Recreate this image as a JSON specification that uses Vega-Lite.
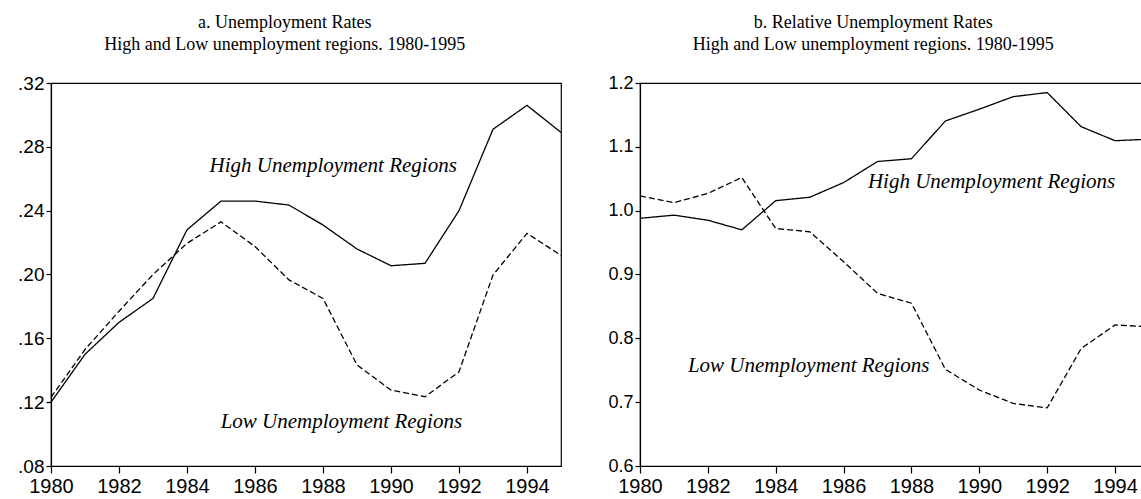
{
  "$schema": "https://vega.github.io/schema/vega-lite/v6.json",
  "padding": {"left": 5, "top": 13, "right": 0, "bottom": 0},
  "background": "white",
  "spacing": 29,
  "datasets": {
    "rates": [
      {"year": 1980, "series": "High", "value": 0.120},
      {"year": 1981, "series": "High", "value": 0.150},
      {"year": 1982, "series": "High", "value": 0.170},
      {"year": 1983, "series": "High", "value": 0.185},
      {"year": 1984, "series": "High", "value": 0.228},
      {"year": 1985, "series": "High", "value": 0.246},
      {"year": 1986, "series": "High", "value": 0.246},
      {"year": 1987, "series": "High", "value": 0.2435},
      {"year": 1988, "series": "High", "value": 0.231},
      {"year": 1989, "series": "High", "value": 0.216},
      {"year": 1990, "series": "High", "value": 0.2055},
      {"year": 1991, "series": "High", "value": 0.207},
      {"year": 1992, "series": "High", "value": 0.240},
      {"year": 1993, "series": "High", "value": 0.291},
      {"year": 1994, "series": "High", "value": 0.306},
      {"year": 1995, "series": "High", "value": 0.289},
      {"year": 1980, "series": "Low", "value": 0.123},
      {"year": 1981, "series": "Low", "value": 0.153},
      {"year": 1982, "series": "Low", "value": 0.177},
      {"year": 1983, "series": "Low", "value": 0.200},
      {"year": 1984, "series": "Low", "value": 0.2195},
      {"year": 1985, "series": "Low", "value": 0.233},
      {"year": 1986, "series": "Low", "value": 0.2175},
      {"year": 1987, "series": "Low", "value": 0.1966},
      {"year": 1988, "series": "Low", "value": 0.185},
      {"year": 1989, "series": "Low", "value": 0.1433},
      {"year": 1990, "series": "Low", "value": 0.1276},
      {"year": 1991, "series": "Low", "value": 0.1234},
      {"year": 1992, "series": "Low", "value": 0.139},
      {"year": 1993, "series": "Low", "value": 0.1997},
      {"year": 1994, "series": "Low", "value": 0.2258},
      {"year": 1995, "series": "Low", "value": 0.212}
    ],
    "relative": [
      {"year": 1980, "series": "High", "value": 0.988},
      {"year": 1981, "series": "High", "value": 0.993},
      {"year": 1982, "series": "High", "value": 0.985},
      {"year": 1983, "series": "High", "value": 0.970},
      {"year": 1984, "series": "High", "value": 1.0157},
      {"year": 1985, "series": "High", "value": 1.021},
      {"year": 1986, "series": "High", "value": 1.044},
      {"year": 1987, "series": "High", "value": 1.077},
      {"year": 1988, "series": "High", "value": 1.0814},
      {"year": 1989, "series": "High", "value": 1.1405},
      {"year": 1990, "series": "High", "value": 1.159},
      {"year": 1991, "series": "High", "value": 1.1786},
      {"year": 1992, "series": "High", "value": 1.185},
      {"year": 1993, "series": "High", "value": 1.1316},
      {"year": 1994, "series": "High", "value": 1.1096},
      {"year": 1995, "series": "High", "value": 1.112},
      {"year": 1980, "series": "Low", "value": 1.023},
      {"year": 1981, "series": "Low", "value": 1.0125},
      {"year": 1982, "series": "Low", "value": 1.027},
      {"year": 1983, "series": "Low", "value": 1.052},
      {"year": 1984, "series": "Low", "value": 0.972},
      {"year": 1985, "series": "Low", "value": 0.967},
      {"year": 1986, "series": "Low", "value": 0.92},
      {"year": 1987, "series": "Low", "value": 0.8705},
      {"year": 1988, "series": "Low", "value": 0.855},
      {"year": 1989, "series": "Low", "value": 0.7514},
      {"year": 1990, "series": "Low", "value": 0.719},
      {"year": 1991, "series": "Low", "value": 0.698},
      {"year": 1992, "series": "Low", "value": 0.691},
      {"year": 1993, "series": "Low", "value": 0.784},
      {"year": 1994, "series": "Low", "value": 0.821},
      {"year": 1995, "series": "Low", "value": 0.818}
    ],
    "labelsA": [
      {"year": 1988.3, "value": 0.264, "text": "High Unemployment Regions"},
      {"year": 1988.54, "value": 0.1038, "text": "Low Unemployment Regions"}
    ],
    "labelsB": [
      {"year": 1990.36, "value": 1.0355, "text": "High Unemployment Regions"},
      {"year": 1984.97, "value": 0.7477, "text": "Low Unemployment Regions"}
    ]
  },
  "config": {
    "view": {"stroke": "black", "strokeWidth": 1.2},
    "axis": {
      "grid": false,
      "labelFont": "Liberation Sans",
      "labelColor": "black",
      "tickColor": "black",
      "domainColor": "black",
      "domainWidth": 1.2,
      "tickWidth": 1.2,
      "title": null
    },
    "title": {
      "font": "Liberation Serif",
      "fontSize": 18,
      "fontWeight": "normal",
      "color": "black",
      "lineHeight": 22,
      "anchor": "middle",
      "frame": "bounds",
      "offset": 20
    }
  },
  "hconcat": [
    {
      "width": 510,
      "height": 383,
      "title": {"text": ["a. Unemployment Rates", "High and Low unemployment regions. 1980-1995"]},
      "layer": [
        {
          "data": {"name": "rates"},
          "mark": {"type": "line", "color": "black", "strokeWidth": 1.3},
          "encoding": {
            "x": {"field": "year", "type": "quantitative",
              "scale": {"domain": [1980, 1995], "nice": false, "zero": false},
              "axis": {"values": [1980,1981,1982,1983,1984,1985,1986,1987,1988,1989,1990,1991,1992,1993,1994,1995],
                "labelExpr": "datum.value % 2 == 0 ? format(datum.value, 'd') : ''",
                "tickSize": 7, "labelFontSize": 20, "labelPadding": 3, "labelFlush": false, "labelOverlap": false}},
            "y": {"field": "value", "type": "quantitative",
              "scale": {"domain": [0.08, 0.32], "nice": false, "zero": false},
              "axis": {"values": [0.08, 0.12, 0.16, 0.20, 0.24, 0.28, 0.32],
                "labelExpr": "replace(format(datum.value, '.2f'), '0.', '.')",
                "tickSize": 5, "labelFontSize": 19, "labelPadding": 2, "minExtent": 45, "labelFlush": false}},
            "strokeDash": {"field": "series", "type": "nominal",
              "scale": {"domain": ["High", "Low"], "range": [[1, 0], [6, 3]]}, "legend": null}
          }
        },
        {
          "data": {"name": "labelsA"},
          "mark": {"type": "text", "font": "Liberation Serif", "fontStyle": "italic", "fontSize": 21, "align": "center", "baseline": "alphabetic", "color": "black"},
          "encoding": {
            "x": {"field": "year", "type": "quantitative"},
            "y": {"field": "value", "type": "quantitative"},
            "text": {"field": "text"}
          }
        }
      ]
    },
    {
      "width": 509,
      "height": 383,
      "title": {"text": ["b. Relative Unemployment Rates", "High and Low unemployment regions. 1980-1995"]},
      "layer": [
        {
          "data": {"name": "relative"},
          "mark": {"type": "line", "color": "black", "strokeWidth": 1.3},
          "encoding": {
            "x": {"field": "year", "type": "quantitative",
              "scale": {"domain": [1980, 1995], "nice": false, "zero": false},
              "axis": {"values": [1980,1981,1982,1983,1984,1985,1986,1987,1988,1989,1990,1991,1992,1993,1994,1995],
                "labelExpr": "datum.value % 2 == 0 ? format(datum.value, 'd') : ''",
                "tickSize": 7, "labelFontSize": 20, "labelPadding": 3, "labelFlush": false, "labelOverlap": false}},
            "y": {"field": "value", "type": "quantitative",
              "scale": {"domain": [0.6, 1.2], "nice": false, "zero": false},
              "axis": {"values": [0.6, 0.7, 0.8, 0.9, 1.0, 1.1, 1.2],
                "format": ".1f",
                "tickSize": 5, "labelFontSize": 18, "labelPadding": 2, "minExtent": 45, "labelFlush": false}},
            "strokeDash": {"field": "series", "type": "nominal",
              "scale": {"domain": ["High", "Low"], "range": [[1, 0], [6, 3]]}, "legend": null}
          }
        },
        {
          "data": {"name": "labelsB"},
          "mark": {"type": "text", "font": "Liberation Serif", "fontStyle": "italic", "fontSize": 21, "align": "center", "baseline": "alphabetic", "color": "black"},
          "encoding": {
            "x": {"field": "year", "type": "quantitative"},
            "y": {"field": "value", "type": "quantitative"},
            "text": {"field": "text"}
          }
        }
      ]
    }
  ],
  "resolve": {"scale": {"x": "independent", "y": "independent", "strokeDash": "shared"}}
}
